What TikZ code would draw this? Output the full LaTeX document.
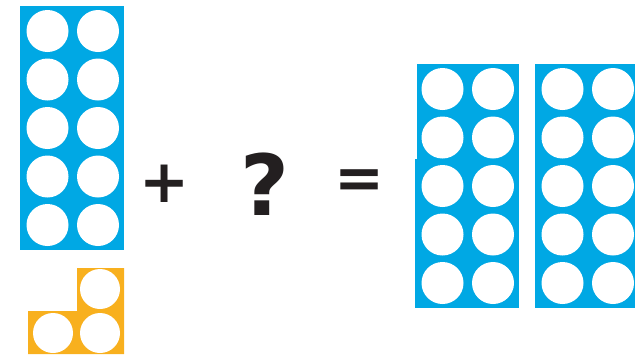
\documentclass[tikz,border=0pt]{standalone}
\usepackage{fontspec}
\setmainfont{DejaVu Sans}
\usepackage{xcolor}
\usetikzlibrary{positioning}
\definecolor{nblue}{HTML}{00A8E4}
\definecolor{norange}{HTML}{F8B01E}
\definecolor{nink}{HTML}{231F20}

% ten-frame: top-left corner at (#1,#2), in pixel units
\newcommand{\tenframe}[3]{%
  \node[frame, anchor=north west] (#3) at (#1,#2) {};
  \foreach \row in {0,...,4} {
    \foreach \col/\dx in {0/27.5,1/78} {
      \fill[hole] ([xshift=\dx*0.02cm, yshift=-(25+48.5*\row)*0.02cm]#3.north west) circle[radius=21*0.02cm];
    }
  }%
}

\begin{document}
\begin{tikzpicture}[
    x=0.02cm, y=-0.02cm,
    frame/.style={rectangle, fill=nblue, inner sep=0pt, minimum width=104*0.02cm, minimum height=244*0.02cm},
    hole/.style={white},
    sign/.style={font=\bfseries\fontsize{34}{36}\selectfont, text=nink, inner sep=0pt},
]
\useasboundingbox (0,0) rectangle (635,356);

% --- Left ten-frame ---
\tenframe{20}{6}{left}

% --- Orange three ---
\fill[norange] (28,311) -- (77,311) -- (77,268) -- (124,268) -- (124,354) -- (28,354) -- cycle;
\foreach \cx/\cy in {100/289, 53/333, 100/333}
  \fill[hole] (\cx,\cy) circle[radius=20];

% --- Right ten-frames ---
\tenframe{415}{64}{rightA}
\tenframe{535}{64}{rightB}
\fill[white] (415,64) rectangle (417,159);

% --- Signs ---
\node[sign] (plus) at (165,184) {+};
\node[sign, font=\bfseries\fontsize{48}{50}\selectfont] (ques) at (265,184) {?};
\node[sign] (eq) at (360,184) {=};

\end{tikzpicture}
\end{document}
